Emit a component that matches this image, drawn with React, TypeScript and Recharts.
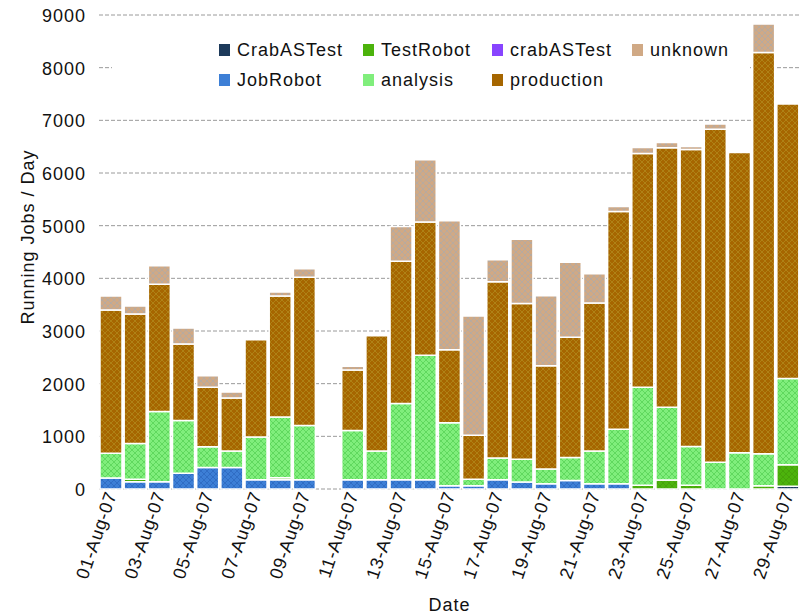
import React from 'react';
import { BarChart, Bar, XAxis, YAxis, CartesianGrid, Legend, Label } from 'recharts';

const dates = [
  '01-Aug-07', '02-Aug-07', '03-Aug-07', '04-Aug-07', '05-Aug-07', '06-Aug-07',
  '07-Aug-07', '08-Aug-07', '09-Aug-07', '10-Aug-07', '11-Aug-07', '12-Aug-07',
  '13-Aug-07', '14-Aug-07', '15-Aug-07', '16-Aug-07', '17-Aug-07', '18-Aug-07',
  '19-Aug-07', '20-Aug-07', '21-Aug-07', '22-Aug-07', '23-Aug-07', '24-Aug-07',
  '25-Aug-07', '26-Aug-07', '27-Aug-07', '28-Aug-07', '29-Aug-07'
];

// stack order, bottom to top (legend reads column by column)
const seriesNames = ['CrabASTest', 'JobRobot', 'TestRobot', 'analysis', 'crabASTest', 'production', 'unknown'];

const crabAsTestJobs = [0, 0, 0, 0, 0, 0, 0, 0, 0, 0, 0, 0, 0, 0, 0, 0, 0, 0, 0, 0, 0, 0, 0, 0, 0, 0, 0, 0, 50];
const jobRobotJobs = [210, 140, 140, 300, 410, 410, 175, 175, 175, 0, 175, 175, 175, 175, 60, 60, 175, 135, 100, 160, 100, 100, 0, 0, 0, 0, 0, 0, 0];
const testRobotJobs = [0, 45, 0, 0, 0, 0, 0, 40, 0, 0, 0, 0, 0, 0, 0, 0, 0, 0, 0, 0, 0, 0, 70, 170, 70, 0, 0, 60, 410];
const analysisJobs = [470, 680, 1330, 1000, 390, 310, 810, 1150, 1030, 0, 935, 545, 1450, 2365, 1200, 125, 415, 430, 280, 440, 620, 1035, 1860, 1380, 735, 510, 690, 610, 1640];
const crabAsTestLowerJobs = [0, 0, 0, 0, 0, 0, 0, 0, 0, 0, 0, 0, 0, 0, 0, 0, 0, 0, 0, 0, 0, 0, 0, 0, 0, 0, 0, 0, 0];
const productionJobs = [2720, 2460, 2420, 1455, 1130, 1010, 1850, 2300, 2815, 0, 1150, 2190, 2700, 2530, 1385, 835, 3345, 2955, 1960, 2280, 2810, 4135, 4440, 4930, 5640, 6320, 5700, 7620, 5210];
const unknownJobs = [265, 150, 350, 300, 220, 110, 0, 75, 160, 0, 70, 0, 660, 1180, 2450, 2265, 420, 1220, 1330, 1425, 555, 95, 115, 100, 60, 100, 0, 540, 0];

const yTicks = [0, 1000, 2000, 3000, 4000, 5000, 6000, 7000, 8000, 9000];

const valuesByName: Record<string, number[]> = {
  CrabASTest: crabAsTestJobs,
  JobRobot: jobRobotJobs,
  TestRobot: testRobotJobs,
  analysis: analysisJobs,
  crabASTest: crabAsTestLowerJobs,
  production: productionJobs,
  unknown: unknownJobs
};

const colors: Record<string, { base: string; hatch: string }> = {
  CrabASTest: { base: '#1d3a5a', hatch: '#2d5078' },
  JobRobot: { base: '#3d7fd6', hatch: '#2f6bc2' },
  TestRobot: { base: '#4cb30c', hatch: '#45a20a' },
  analysis: { base: '#80ee7c', hatch: '#5cd65a' },
  crabASTest: { base: '#8844ff', hatch: '#7733ee' },
  production: { base: '#a66600', hatch: '#b08418' },
  unknown: { base: '#d0a985', hatch: '#b4aaa2' }
};

const data = dates.map((date, i) => {
  const row: Record<string, string | number> = { date };
  seriesNames.forEach((name) => {
    row[name] = valuesByName[name][i];
  });
  return row;
});

const FONT = '"Liberation Sans", Arial, Helvetica, sans-serif';

const YTick = ({ y, payload }: any) => (
  <text x={86} y={y + 7} textAnchor="end" fontFamily={FONT} fontSize={18} letterSpacing={1} fill="#111">
    {payload.value}
  </text>
);

const XTick = ({ x, y, payload }: any) => {
  const ax = x + 6;
  const ay = y + 5;
  return (
    <text
      x={ax}
      y={ay}
      textAnchor="end"
      transform={`rotate(-71, ${ax}, ${ay})`}
      fontFamily={FONT}
      fontSize={18}
      letterSpacing={0.8}
      fill="#111"
    >
      {payload.value}
    </text>
  );
};

const legendCols = [107, 251, 380, 520];

const LegendBox = () => (
  <div style={{ position: 'relative', width: 638, height: 86, background: '#fff', fontFamily: FONT, fontSize: 18, letterSpacing: 1, color: '#111' }}>
    {seriesNames.map((name, i) => {
      const col = Math.floor(i / 2);
      const row = i % 2;
      return (
        <div
          key={name}
          style={{ position: 'absolute', left: legendCols[col], top: 19 + row * 30, display: 'flex', alignItems: 'center', lineHeight: '18px', whiteSpace: 'nowrap' }}
        >
          <span style={{ display: 'inline-block', width: 11, height: 12, background: colors[name].base, marginRight: 7 }} />
          <span>{name}</span>
        </div>
      );
    })}
  </div>
);

export default function App() {
  return (
    <div style={{ position: 'absolute', left: 0, top: 0, width: 800, height: 614, background: '#fff' }}>
      <BarChart
        width={800}
        height={614}
        data={data}
        margin={{ top: 15, right: 0, bottom: 0, left: 0 }}
        barCategoryGap={1}
      >
        <defs>
          {seriesNames.map((name) => (
            <pattern key={name} id={`hatch-${name}`} width={6} height={6} patternUnits="userSpaceOnUse">
              <rect width={6} height={6} fill={colors[name].base} />
              <path d="M0,0 L6,6 M6,0 L0,6" stroke={colors[name].hatch} strokeWidth={0.9} />
            </pattern>
          ))}
        </defs>
        <CartesianGrid vertical={false} stroke="#9a9a9a" strokeDasharray="4 2" />
        <XAxis
          dataKey="date"
          interval={1}
          axisLine={false}
          tickLine={false}
          tickSize={0}
          tickMargin={0}
          height={125}
          tick={<XTick />}
        >
          <Label
            content={({ viewBox }: any) => (
              <text x={viewBox.x + viewBox.width / 2} y={611} textAnchor="middle" fontFamily={FONT} fontSize={18} letterSpacing={1} fill="#111">
                Date
              </text>
            )}
          />
        </XAxis>
        <YAxis
          width={99}
          domain={[0, 9000]}
          ticks={yTicks}
          interval={0}
          axisLine={false}
          tickLine={false}
          tick={<YTick />}
        >
          <Label
            content={() => (
              <text x={34} y={237} textAnchor="middle" transform="rotate(-90, 34, 237)" fontFamily={FONT} fontSize={18} letterSpacing={1} fill="#111">
                Running Jobs / Day
              </text>
            )}
          />
        </YAxis>
        <Legend
          layout="horizontal"
          verticalAlign="middle"
          align="center"
          wrapperStyle={{ top: 22, left: 112, width: 638, height: 86 }}
          content={<LegendBox />}
        />
        {seriesNames.map((name) => (
          <Bar
            key={name}
            dataKey={name}
            stackId="jobs"
            fill={`url(#hatch-${name})`}
            stroke="#ffffff"
            strokeWidth={1.5}
            isAnimationActive={false}
          />
        ))}
      </BarChart>
    </div>
  );
}
